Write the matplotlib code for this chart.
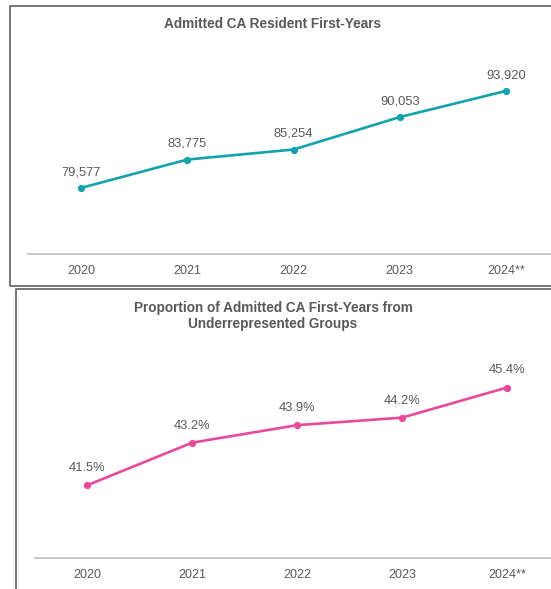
import matplotlib
matplotlib.use("Agg")
import matplotlib.pyplot as plt
from matplotlib.lines import Line2D

plt.rcParams['font.family'] = ['Liberation Sans', 'DejaVu Sans']

years = ['2020', '2021', '2022', '2023', '2024**']
admitted = [79577, 83775, 85254, 90053, 93920]
urg_share = [41.5, 43.2, 43.9, 44.2, 45.4]

W, H = 551, 589
TEXT = '#595959'

fig = plt.figure(figsize=(W / 100, H / 100), dpi=100)


def px_axes(left, top, right, bottom):
    return fig.add_axes([left / W, 1 - bottom / H, (right - left) / W, (bottom - top) / H])


def style(ax, title, title_y):
    for s in ['top', 'right', 'left']:
        ax.spines[s].set_visible(False)
    ax.spines['bottom'].set_color('#bfbfbf')
    ax.spines['bottom'].set_linewidth(1.2)
    ax.set_yticks([])
    ax.set_xticks(range(len(years)))
    ax.set_xticklabels(years, fontsize=9, color=TEXT)
    ax.tick_params(axis='x', length=0, pad=8)
    ax.set_xlim(-0.5, 4.5)
    ax.patch.set_alpha(0)
    fig.text(273 / W, title_y, title, ha='center', va='center',
             fontsize=9.8, fontweight='bold', color=TEXT, linespacing=1.25)


# top panel
ax1 = px_axes(28, 60, 559, 254)
ax1.plot(range(len(years)), admitted, color='#14a3ae', lw=1.9, marker='o', ms=4.2)
ax1.set_ylim(69800, 98500)
for i, v in enumerate(admitted):
    ax1.annotate(f'{v:,}', (i, v), xytext=(0, 7), textcoords='offset points',
                 ha='center', va='bottom', fontsize=9.3, color=TEXT)
style(ax1, 'Admitted CA Resident First-Years', 1 - 24 / H)

# bottom panel
ax2 = px_axes(34.5, 360, 559.5, 558)
ax2.plot(range(len(years)), urg_share, color='#e9489b', lw=1.9, marker='o', ms=4.2)
ax2.set_ylim(38.6, 46.5)
for i, v in enumerate(urg_share):
    ax2.annotate(f'{v:.1f}%', (i, v), xytext=(0, 8), textcoords='offset points',
                 ha='center', va='bottom', fontsize=9.3, color=TEXT)
style(ax2, 'Proportion of Admitted CA First-Years from\nUnderrepresented Groups', 1 - 316 / H)

# panel borders
def fline(xs, ys):
    fig.add_artist(Line2D([x / W for x in xs], [1 - y / H for y in ys],
                          color='#6b6b6b', lw=1.3, transform=fig.transFigure))

fline([560, 9.5, 9.5, 560], [5.5, 5.5, 285.5, 285.5])
fline([15.5, 15.5, 560], [600, 288.5, 288.5])

fig.savefig('out.png', dpi=100)
